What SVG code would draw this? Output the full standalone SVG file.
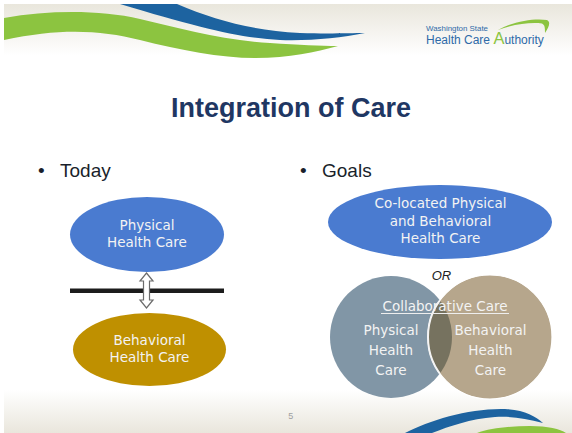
<svg xmlns="http://www.w3.org/2000/svg" width="572" height="433" viewBox="0 0 572 433">
  <defs>
    <linearGradient id="slideBg" x1="0" y1="0" x2="0" y2="1">
      <stop offset="0" stop-color="#e9e6dc"/>
      <stop offset="0.12" stop-color="#ffffff"/>
      <stop offset="0.9" stop-color="#ffffff"/>
      <stop offset="1" stop-color="#e9e6dc"/>
    </linearGradient>
    <clipPath id="leftCircleClip">
      <circle cx="391" cy="337" r="61"/>
    </clipPath>
  </defs>
  <style>
    .node-text { font-family: "DejaVu Sans", Verdana, sans-serif; font-size: 13.5px; fill: #f3f3f3; text-anchor: middle; }
    .bullet { font-family: "Liberation Sans", Arial, sans-serif; font-size: 19px; fill: #1a1f2b; }
    .logo { font-family: "Liberation Sans", Arial, sans-serif; fill: #2e6aa8; }
  </style>

  <!-- slide background -->
  <rect x="0" y="0" width="572" height="433" fill="#ffffff"/>
  <rect x="4" y="4" width="568" height="429" fill="url(#slideBg)"/>

  <!-- header waves -->
  <g id="header-waves">
    <path d="M4,18 C50,10 100,10 140,19 C180,28 220,40 270,43 C300,45 320,46 338,46 C315,52 290,58 255,58 C220,58 180,50 140,40 C100,30 60,28 4,40 Z" fill="#8cc440"/>
    <path d="M120,4 L177,4 C215,20 250,30 300,33 C330,34 350,33 365,33 C340,38 310,41 280,40 C240,38 200,28 120,4 Z" fill="#1d63a0"/>
  </g>

  <!-- footer waves -->
  <g id="footer-waves">
    <path d="M405,433 C430,420 470,408 505,409 C525,410 535,416 543,423 C525,418 510,416 495,417 C470,419 450,426 432,433 Z" fill="#1d63a0"/>
    <path d="M477,433 C490,428 510,426 530,426 C548,426 560,429 566,433 Z" fill="#8cc440"/>
  </g>

  <!-- agency logo -->
  <g id="logo">
    <text class="logo" x="426" y="31" font-size="7.9">Washington State</text>
    <text class="logo" x="426" y="43.5" font-size="12">Health Care <tspan fill="#8cc440" font-size="16.5">A</tspan>uthority</text>
    <path d="M498,30 C514,21 535,18 547,20 C551,22 549,27 545,33 C545,28 545,25 542,23.5 C531,22 514,24 498,30 Z" fill="#8cc440"/>
  </g>

  <!-- title -->
  <text id="title" x="291" y="117" font-family="'Liberation Sans', Arial, sans-serif" font-weight="bold" font-size="27" fill="#1f3763" text-anchor="middle">Integration of Care</text>

  <!-- bullets -->
  <g id="bullet-today">
    <text class="bullet" x="38" y="176.5">•</text>
    <text class="bullet" x="60" y="176.5">Today</text>
  </g>
  <g id="bullet-goals">
    <text class="bullet" x="300" y="176.5">•</text>
    <text class="bullet" x="322" y="176.5">Goals</text>
  </g>

  <!-- today: separated care -->
  <g id="connectors">
    <rect x="70" y="288.5" width="154" height="4.5" fill="#1c1c1c"/>
    <path d="M146.5,273 L153,281 L149.5,281 L149.5,300 L153,300 L146.5,308 L140,300 L143.5,300 L143.5,281 L140,281 Z" fill="#ffffff" stroke="#6b6b6b" stroke-width="1.2" stroke-linejoin="miter"/>
  </g>

  <g id="today-physical">
    <ellipse cx="147" cy="234.5" rx="77" ry="37.5" fill="#4a7bd0"/>
    <text class="node-text" x="147" y="229.5">Physical</text>
    <text class="node-text" x="147" y="247">Health Care</text>
  </g>

  <g id="today-behavioral">
    <ellipse cx="149.5" cy="349.5" rx="76.5" ry="36.5" fill="#bf9000"/>
    <text class="node-text" x="149.5" y="345">Behavioral</text>
    <text class="node-text" x="149.5" y="362">Health Care</text>
  </g>

  <!-- goals: co-located care -->
  <g id="goal-colocated">
    <ellipse cx="440" cy="222" rx="112" ry="37" fill="#4a7bd0"/>
    <text class="node-text" x="440.5" y="207.5">Co-located Physical</text>
    <text class="node-text" x="440.5" y="225.5">and Behavioral</text>
    <text class="node-text" x="440.5" y="242.5">Health Care</text>
  </g>

  <text id="or-label" x="441.5" y="280" font-family="'Liberation Sans', Arial, sans-serif" font-style="italic" font-size="13" fill="#222222" text-anchor="middle">OR</text>

  <!-- goals: collaborative care -->
  <g id="goal-collaborative">
    <circle cx="391" cy="337" r="61" fill="#8196a6"/>
    <circle cx="490" cy="337" r="62" fill="#b6a68c" stroke="#ffffff" stroke-width="1.2"/>
    <circle cx="490" cy="337" r="62" fill="#76725f" stroke="#f4f4f4" stroke-width="2" clip-path="url(#leftCircleClip)"/>
    <text class="node-text" x="445" y="310.5">Collaborative Care</text>
    <line x1="381" y1="313.5" x2="509" y2="313.5" stroke="#eeeeee" stroke-width="1"/>
    <text class="node-text" x="391" y="335">Physical</text>
    <text class="node-text" x="391" y="355">Health</text>
    <text class="node-text" x="391" y="375">Care</text>
    <text class="node-text" x="490.5" y="335">Behavioral</text>
    <text class="node-text" x="490.5" y="355">Health</text>
    <text class="node-text" x="490.5" y="375">Care</text>
  </g>

  <!-- page number -->
  <text id="page-number" x="290.7" y="419" font-family="'Liberation Sans', Arial, sans-serif" font-size="9" fill="#a0a0a0" text-anchor="middle">5</text>
</svg>
